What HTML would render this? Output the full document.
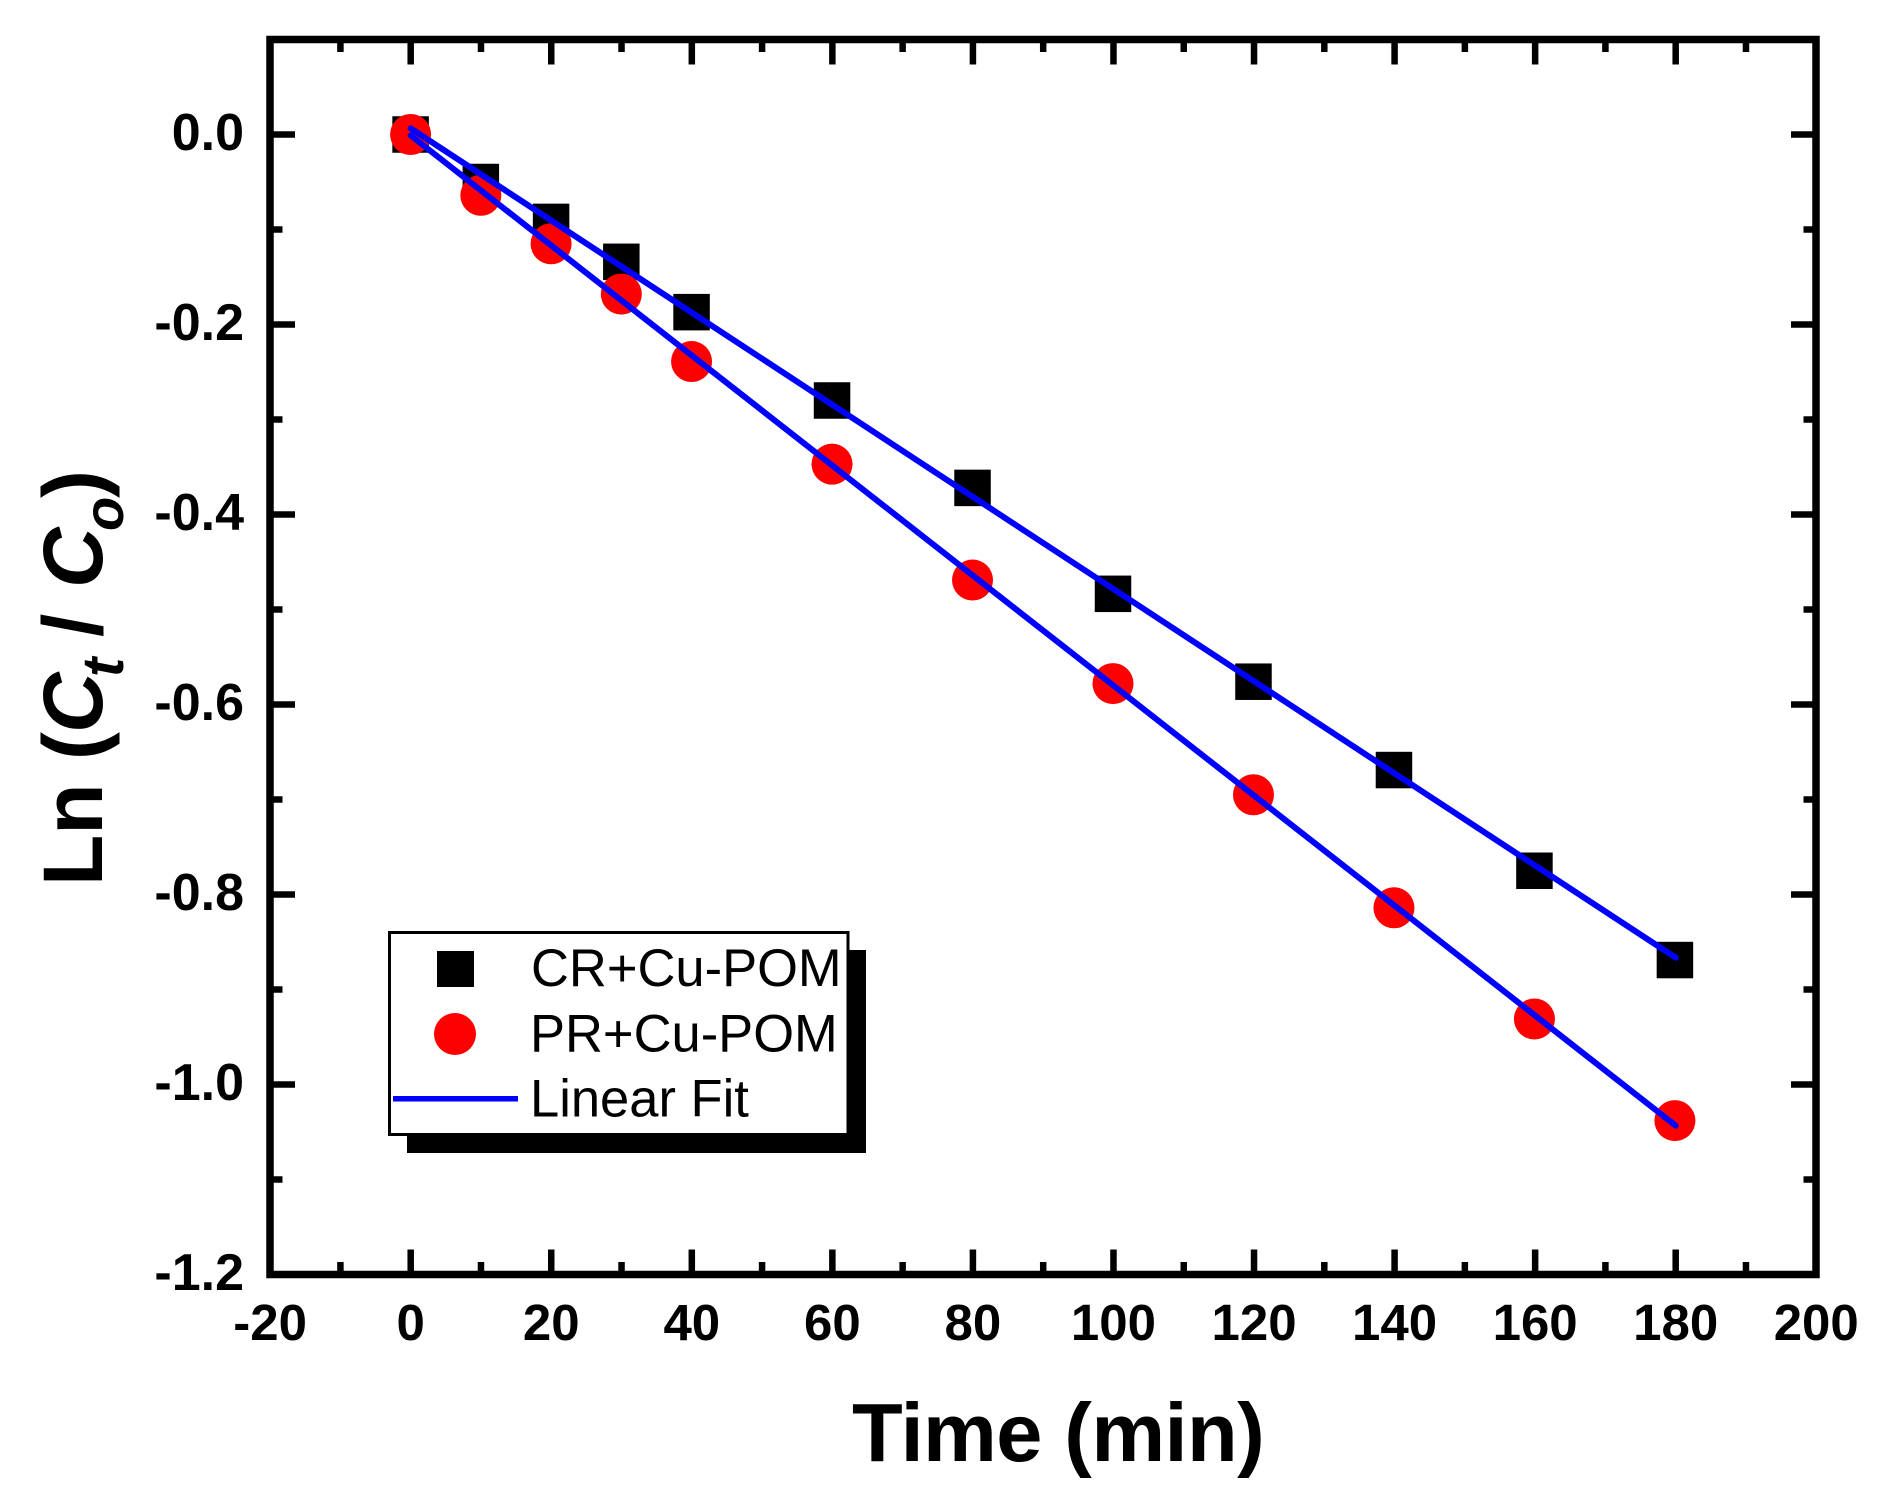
<!DOCTYPE html>
<html lang="en">
<head>
<meta charset="utf-8">
<title>Ln (Ct / Co) vs Time</title>
<style>
html,body{margin:0;padding:0;background:#fff;}
svg{display:block;}
text{font-family:"Liberation Sans",sans-serif;fill:#000;}
</style>
</head>
<body>
<svg id="chart" xmlns="http://www.w3.org/2000/svg" width="1883" height="1491" viewBox="0 0 1883 1491">
  <rect x="0" y="0" width="1883" height="1491" fill="#fff"/>
  <g id="ticks"></g>
  <g id="tick-labels"></g>
  <g id="series"></g>
  <rect x="270" y="39.5" width="1546" height="1235" fill="none" stroke="#000" stroke-width="7.5"/>
  <text x="852" y="1461" font-size="83" font-weight="bold" letter-spacing="-0.6">Time (min)</text>
  <text transform="translate(102,886) rotate(-90)" font-size="84" font-weight="bold">Ln (<tspan x="153" font-style="italic">C</tspan><tspan x="209" font-style="italic" font-size="58" dy="21">t</tspan><tspan x="249" dy="-21">/</tspan><tspan x="298" font-style="italic">C</tspan><tspan x="355" font-style="italic" font-size="56" dy="21">o</tspan><tspan x="388" dy="-21">)</tspan></text>
  <g>
    <rect x="407" y="950" width="459" height="203" fill="#000"/>
    <rect x="389.5" y="932.5" width="458.5" height="202" fill="#fff" stroke="#000" stroke-width="3"/>
    <rect x="437" y="951" width="37" height="36" fill="#000"/>
    <circle cx="455" cy="1034" r="21" fill="#f00"/>
    <line x1="393" y1="1098.7" x2="518" y2="1098.7" stroke="#00f" stroke-width="5.5"/>
    <text x="531" y="986" font-size="52.5">CR+Cu-POM</text>
    <text x="530" y="1051.5" font-size="52.5">PR+Cu-POM</text>
    <text x="530" y="1116.5" font-size="52.5">Linear Fit</text>
  </g>
</svg>
<script>
const xTicks = [-20, 0, 20, 40, 60, 80, 100, 120, 140, 160, 180, 200];
const xMinorTicks = [-10, 10, 30, 50, 70, 90, 110, 130, 150, 170, 190];
const yTicks = [0, -0.2, -0.4, -0.6, -0.8, -1.0, -1.2];
const yTickText = ["0.0", "-0.2", "-0.4", "-0.6", "-0.8", "-1.0", "-1.2"];
const yMinorTicks = [0.1, -0.1, -0.3, -0.5, -0.7, -0.9, -1.1];
const times = [0, 10, 20, 30, 40, 60, 80, 100, 120, 140, 160, 180];
const crValues = [0, -0.05, -0.092, -0.134, -0.187, -0.28, -0.372, -0.4835, -0.576, -0.669, -0.775, -0.869];
const prValues = [0, -0.064, -0.115, -0.168, -0.239, -0.347, -0.469, -0.578, -0.695, -0.814, -0.931, -1.038];
const fitTimes = [0, 180];
const crFit = [0.0065, -0.8665];
const prFit = [-0.001, -1.0433];

const sx = v => 410.7 + (v - 0) * (1816.2 - 270.1) / 220;
const px = v => 410.6 + v * 7.024;
const sy = v => 134.5 - v * 950;
const NS = "http://www.w3.org/2000/svg";
function mk(parent, tag, attrs) {
  const el = document.createElementNS(NS, tag);
  for (const k in attrs) el.setAttribute(k, attrs[k]);
  parent.appendChild(el);
  return el;
}
const ticks = document.getElementById("ticks");
const labels = document.getElementById("tick-labels");
const series = document.getElementById("series");
const tickStyle = {stroke: "#000", "stroke-width": 6.5};
const L = 270, R = 1816, T = 39.5, B = 1274.5;
const MAJOR = 25, MINOR = 12.5;

function xTick(v, len) {
  const x = sx(v);
  const a = mk(ticks, "line", {x1: x, x2: x, y1: B, y2: B - len, ...tickStyle});
  
  
  const b = mk(ticks, "line", {x1: x, x2: x, y1: T, y2: T + len, ...tickStyle});
  
  
}
function yTick(v, len) {
  const y = sy(v);
  const a = mk(ticks, "line", {x1: L, x2: L + len, y1: y, y2: y, ...tickStyle});
  
  
  const b = mk(ticks, "line", {x1: R, x2: R - len, y1: y, y2: y, ...tickStyle});
  
  
}
xTicks.forEach(v => {
  xTick(v, MAJOR);
  const t = mk(labels, "text", {x: sx(v), y: 1340, "font-size": 51, "font-weight": "bold", "text-anchor": "middle"});
  
  
  t.textContent = String(v);
});
xMinorTicks.forEach(v => xTick(v, MINOR));
yTicks.forEach((v, i) => {
  yTick(v, MAJOR);
  const t = mk(labels, "text", {x: 244, y: sy(v) + 15.5, "font-size": 52, "font-weight": "bold", "text-anchor": "end"});
  
  
  t.textContent = yTickText[i];
});
yMinorTicks.forEach(v => yTick(v, MINOR));

times.forEach((t, i) => {
  const s = 36.5;
  const m = mk(series, "rect", {x: px(t) - s / 2, y: sy(crValues[i]) - s / 2, width: s, height: s, fill: "#000"});
  
  
});
times.forEach((t, i) => {
  const m = mk(series, "circle", {cx: px(t), cy: sy(prValues[i]), r: 20.5, fill: "#f00"});
  
  
});
const fitCr = mk(series, "line", {x1: sx(fitTimes[0]), y1: sy(crFit[0]), x2: sx(fitTimes[1]), y2: sy(crFit[1]), stroke: "#00f", "stroke-width": 6, "stroke-linecap": "round"});


const fitPr = mk(series, "line", {x1: sx(fitTimes[0]), y1: sy(prFit[0]), x2: sx(fitTimes[1]), y2: sy(prFit[1]), stroke: "#00f", "stroke-width": 6, "stroke-linecap": "round"});


</script>
</body>
</html>
